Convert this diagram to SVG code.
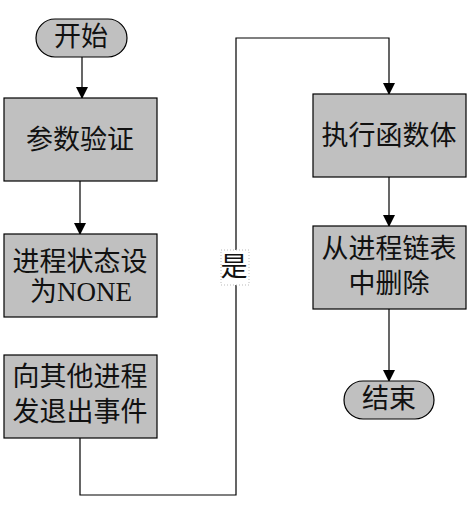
<svg xmlns="http://www.w3.org/2000/svg" width="471" height="515" viewBox="0 0 471 515">
<defs>
<style>
.box{fill:#c0c0c0;stroke:#000;stroke-width:1.2}
.t{font-family:"Liberation Serif","Noto Sans CJK SC",serif;font-size:27px;fill:#111;text-anchor:middle;dominant-baseline:central}
.c{fill:none;stroke:#000;stroke-width:1.2}
</style>
<marker id="ah" markerWidth="12" markerHeight="12" refX="11" refY="6" orient="auto" markerUnits="userSpaceOnUse">
<path d="M0,0 L12,6 L0,12 z" fill="#000"/>
</marker>
</defs>
<rect width="471" height="515" fill="#fff"/>
<g id="connectors">
<path class="c" d="M82,57 V98" marker-end="url(#ah)"/>
<path class="c" d="M80,181 V234" marker-end="url(#ah)"/>
<path class="c" d="M80,438 V495 H236 V38 H389 V94" marker-end="url(#ah)"/>
<path class="c" d="M389,177 V226" marker-end="url(#ah)"/>
<path class="c" d="M389,309 V381" marker-end="url(#ah)"/>
<g id="label-yes">
<rect x="221" y="250" width="28" height="35" fill="#fff" stroke="#bbb" stroke-width="1" stroke-dasharray="1,2"/>
<text class="t" x="234" y="267">是</text>
</g>
</g>
<g id="start">
<rect class="box" x="36" y="19" width="91" height="38" rx="19" ry="19"/>
<text class="t" x="81" y="37">开始</text>
</g>
<g id="validate">
<rect class="box" x="4" y="98" width="153" height="83"/>
<text class="t" x="80" y="140">参数验证</text>
</g>
<g id="setnone">
<rect class="box" x="4" y="234" width="153" height="83"/>
<text class="t" x="80" y="262">进程状态设</text>
<text class="t" x="81" y="292">为NONE</text>
</g>
<g id="notify">
<rect class="box" x="4" y="355" width="153" height="83"/>
<text class="t" x="80" y="377">向其他进程</text>
<text class="t" x="80" y="412">发退出事件</text>
</g>
<g id="exec">
<rect class="box" x="313" y="94" width="153" height="83"/>
<text class="t" x="389" y="136">执行函数体</text>
</g>
<g id="remove">
<rect class="box" x="313" y="226" width="153" height="83"/>
<text class="t" x="389" y="249">从进程链表</text>
<text class="t" x="389" y="284">中删除</text>
</g>
<g id="end">
<rect class="box" x="344" y="381" width="90" height="38" rx="19" ry="19"/>
<text class="t" x="389" y="399">结束</text>
</g>
</svg>
